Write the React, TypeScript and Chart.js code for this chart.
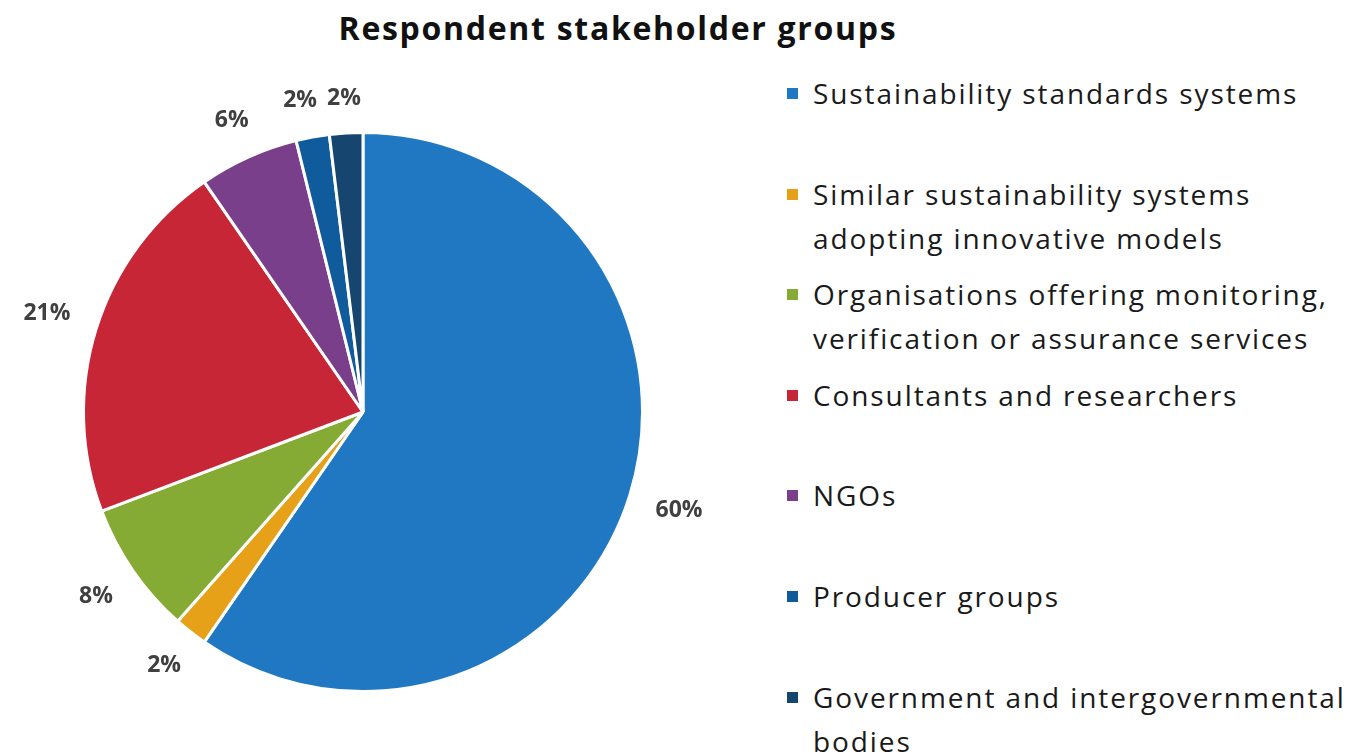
import React, { useEffect, useRef } from "react";
import { Chart, registerables } from "chart.js";

Chart.register(...registerables);

const TITLE = "Respondent stakeholder groups";
const categories: string[][] = [
  ["Sustainability standards systems"],
  ["Similar sustainability systems", "adopting innovative models"],
  ["Organisations offering monitoring,", "verification or assurance services"],
  ["Consultants and researchers"],
  ["NGOs"],
  ["Producer groups"],
  ["Government and intergovernmental", "bodies"],
];
// respondent counts (shares shown as rounded percentages: 60, 2, 8, 21, 6, 2, 2)
const counts: number[] = [31, 1, 4, 11, 3, 1, 1];
const colors: string[] = ["#1F78C1", "#E6A118", "#86AB34", "#C72637", "#7A3F8A", "#0F5B9B", "#16466F"];

const FONT = "'Open Sans', 'Noto Sans', sans-serif";

const pctLabels = {
  id: "pctLabels",
  afterDatasetsDraw(chart: any) {
    const ctx = chart.ctx as CanvasRenderingContext2D;
    const meta = chart.getDatasetMeta(0);
    const data = chart.data.datasets[0].data as number[];
    const total = data.reduce((a, b) => a + b, 0);
    ctx.save();
    ctx.font = `bold 23px ${FONT}`;
    ctx.fillStyle = "#404040";
    ctx.textAlign = "center";
    ctx.textBaseline = "middle";
    const items = meta.data.map((arc: any, i: number) => {
      const p = arc.getProps(["x", "y", "startAngle", "endAngle", "outerRadius"], true);
      const mid = (p.startAngle + p.endAngle) / 2;
      const dx = Math.cos(mid);
      const dy = Math.sin(mid);
      const text = `${Math.round((data[i] / total) * 100)}%`;
      const w = ctx.measureText(text).width;
      const h = 14;
      const ext = Math.abs(dx) * (w / 2) + Math.abs(dy) * (h / 2);
      const d = p.outerRadius + 27 + ext;
      return { text, w, x: p.x + dx * d, y: p.y + dy * d };
    });
    // simple overlap separation (push earlier label away from the next one)
    for (let i = items.length - 2; i >= 0; i--) {
      const a = items[i];
      const b = items[i + 1];
      if (Math.abs(a.y - b.y) < 22) {
        const need = (a.w + b.w) / 2 + 10;
        const gap = Math.abs(b.x - a.x);
        if (gap < need) {
          a.x += (a.x <= b.x ? -1 : 1) * (need - gap);
        }
      }
    }
    items.forEach((it: any) => ctx.fillText(it.text, it.x, it.y));
    ctx.restore();
  },
};

export default function App() {
  const ref = useRef<HTMLCanvasElement | null>(null);
  useEffect(() => {
    if (!ref.current) return;
    const chart = new Chart(ref.current, {
      type: "pie",
      data: {
        labels: categories.map((c) => c.join(" ")),
        datasets: [
          {
            data: counts,
            backgroundColor: colors,
            borderColor: "#ffffff",
            borderWidth: 3,
          },
        ],
      },
      options: {
        animation: false,
        responsive: true,
        maintainAspectRatio: false,
        layout: { padding: { left: 82, right: 82, top: 131, bottom: 61 } },
        plugins: {
          legend: { display: false },
          title: { display: false },
          tooltip: { enabled: false },
        },
      },
      plugins: [pctLabels],
    });
    return () => chart.destroy();
  }, []);

  return (
    <div style={{ position: "absolute", left: 0, top: 0, width: 1370, height: 754, background: "#fff", overflow: "hidden" }}>
      <div
        style={{
          position: "absolute",
          left: 0,
          top: 8,
          width: 1236,
          textAlign: "center",
          fontFamily: FONT,
          fontWeight: 700,
          fontSize: 32,
          letterSpacing: "1.7px",
          lineHeight: "40px",
          color: "#111",
        }}
      >
        {TITLE}
      </div>
      <div style={{ position: "absolute", left: 0, top: 0, width: 726, height: 754 }}>
        <canvas ref={ref} />
      </div>
      {categories.map((lines, i) => (
        <div
          key={i}
          style={{
            position: "absolute",
            left: 787,
            top: 93 + i * 100.6 - 22,
            fontFamily: FONT,
            fontSize: 28,
            letterSpacing: "1.9px",
            lineHeight: "44px",
            color: "#1a1a1a",
            whiteSpace: "nowrap",
          }}
        >
          <span
            style={{
              position: "absolute",
              left: 0,
              top: 17,
              width: 11,
              height: 11,
              background: colors[i],
            }}
          />
          <div style={{ marginLeft: 26 }}>
            {lines.map((l, j) => (
              <div key={j}>{l}</div>
            ))}
          </div>
        </div>
      ))}
    </div>
  );
}
